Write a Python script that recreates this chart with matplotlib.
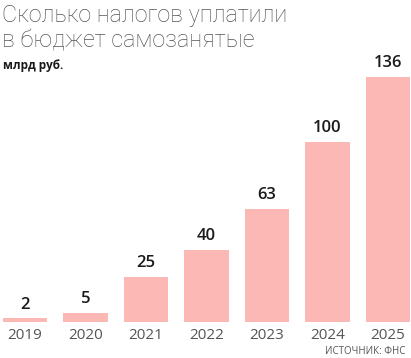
import matplotlib
matplotlib.use("Agg")
import matplotlib.pyplot as plt

years = ["2019", "2020", "2021", "2022", "2023", "2024", "2025"]
values = [2, 5, 25, 40, 63, 100, 136]

bar_color = "#fbb8b4"
text_gray = "#555555"

plt.rcParams["font.family"] = ["Open Sans", "DejaVu Sans"]

fig = plt.figure(figsize=(4.11, 3.58), dpi=100)
ax = fig.add_axes([3 / 411, 36 / 358, 407 / 411, 245 / 358])

x = list(range(len(years)))
ax.bar(x, values, width=0.73, color=bar_color)
ax.set_xlim(-0.365, len(years) - 1 + 0.365)
ax.set_ylim(0, 136)

for xi, v in zip(x, values):
    ax.annotate(str(v), (xi, v), xytext=(0, 4), textcoords="offset points",
                ha="center", va="bottom", fontsize=12, color="#1a1a1a",
                fontweight="semibold")

ax.set_xticks(x)
ax.set_xticklabels(years, fontsize=11, color=text_gray)
ax.tick_params(axis="x", length=0, pad=4)
ax.set_yticks([])
for s in ax.spines.values():
    s.set_visible(False)

fig.text(2 / 411, 1 - 4 / 358, "Сколько налогов уплатили\nв бюджет самозанятые",
         ha="left", va="top", fontsize=16.8, color=text_gray, fontweight="light",
         family=["Roboto", "DejaVu Sans"], linespacing=1.15)
fig.text(3 / 411, 1 - 66 / 358, "млрд руб.", ha="left", va="center",
         fontsize=8.5, color="#1a1a1a", fontweight="bold")
fig.text(405 / 411, 1 - 352 / 358, "ИСТОЧНИК: ФНС", ha="right", va="center",
         fontsize=7, color=text_gray)

fig.savefig("out.png", dpi=100)
